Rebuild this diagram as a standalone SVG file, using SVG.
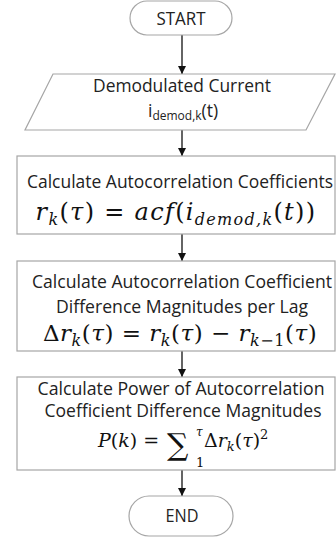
<svg xmlns="http://www.w3.org/2000/svg" width="336" height="540" viewBox="0 0 336 540">
<defs>
<marker id="ah" viewBox="0 0 10 10" refX="10" refY="5" markerWidth="8" markerHeight="8" markerUnits="userSpaceOnUse" orient="auto">
<path d="M0,0 L10,5 L0,10 z" fill="#111"/>
</marker>
<style>
.shape{fill:#fff;stroke:#a6a6a6;stroke-width:1.2}
.lbl{font-family:"Open Sans","Liberation Sans",sans-serif;font-size:17.5px;fill:#222;text-anchor:middle}
.m{font-family:"DejaVu Serif","Liberation Serif",serif;font-size:23px;fill:#111;text-anchor:middle;letter-spacing:0.5px}
.i{font-style:italic}
.sub{font-size:16px}
.conn{stroke:#111;stroke-width:1.3;fill:none;marker-end:url(#ah)}
</style>
</defs>
<rect width="336" height="540" fill="#fff"/>
<g id="connectors">
<line class="conn" x1="182" y1="35" x2="182" y2="74"/>
<line class="conn" x1="182" y1="130" x2="182" y2="156"/>
<line class="conn" x1="182" y1="234" x2="182" y2="261"/>
<line class="conn" x1="182" y1="351" x2="182" y2="377"/>
<line class="conn" x1="182" y1="470" x2="182" y2="496"/>
</g>
<g id="start">
<rect class="shape" x="130" y="1" width="102" height="34" rx="17"/>
<text class="lbl" x="181" y="25" textLength="49" lengthAdjust="spacingAndGlyphs">START</text>
</g>
<g id="input">
<polygon class="shape" points="53,74 335,74 306,130 25,130"/>
<text class="lbl" x="182" y="92" textLength="178" lengthAdjust="spacingAndGlyphs">Demodulated Current</text>
<text x="148" y="117" font-family="Open Sans, Liberation Sans, sans-serif" font-size="17.5" fill="#222">i<tspan font-size="12" dy="3">demod,k</tspan><tspan dy="-3">(t)</tspan></text>
</g>
<g id="acf">
<rect class="shape" x="17" y="156" width="318" height="78"/>
<text class="lbl" x="180" y="188" textLength="306" lengthAdjust="spacingAndGlyphs">Calculate Autocorrelation Coefficients</text>
<text class="m" x="176" y="220" style="font-size:24px;letter-spacing:1.3px"><tspan class="i">r</tspan><tspan class="i sub" dy="5">k</tspan><tspan dy="-5">(</tspan><tspan class="i">τ</tspan>) = <tspan class="i">acf</tspan>(<tspan class="i">i</tspan><tspan class="i sub" dy="5">demod,k</tspan><tspan dy="-5">(</tspan><tspan class="i">t</tspan>))</text>
</g>
<g id="diff">
<rect class="shape" x="17" y="261" width="318" height="90"/>
<text class="lbl" x="182" y="288" textLength="300" lengthAdjust="spacingAndGlyphs">Calculate Autocorrelation Coefficient</text>
<text class="lbl" x="182" y="313" textLength="252" lengthAdjust="spacingAndGlyphs">Difference Magnitudes per Lag</text>
<text class="m" x="180" y="341">Δ<tspan class="i">r</tspan><tspan class="i sub" dy="5">k</tspan><tspan dy="-5">(</tspan><tspan class="i">τ</tspan>) = <tspan class="i">r</tspan><tspan class="i sub" dy="5">k</tspan><tspan dy="-5">(</tspan><tspan class="i">τ</tspan>) − <tspan class="i">r</tspan><tspan class="sub" dy="5"><tspan class="i">k</tspan>−1</tspan><tspan dy="-5">(</tspan><tspan class="i">τ</tspan>)</text>
</g>
<g id="power">
<rect class="shape" x="17" y="377" width="318" height="93"/>
<text class="lbl" x="181" y="395" textLength="287" lengthAdjust="spacingAndGlyphs">Calculate Power of Autocorrelation</text>
<text class="lbl" x="183" y="417" textLength="277" lengthAdjust="spacingAndGlyphs">Coefficient Difference Magnitudes</text>
<text x="98" y="447" font-family="DejaVu Serif, Liberation Serif, serif" font-size="19" fill="#111"><tspan font-style="italic">P</tspan>(<tspan font-style="italic">k</tspan>) =</text>
<text x="167" y="455" font-family="DejaVu Serif, Liberation Serif, serif" font-size="30" fill="#111">∑</text>
<text x="196" y="436" font-family="DejaVu Serif, Liberation Serif, serif" font-size="12" font-style="italic" fill="#111">τ</text>
<text x="196" y="467" font-family="DejaVu Serif, Liberation Serif, serif" font-size="13" fill="#111">1</text>
<text x="204" y="447" font-family="DejaVu Serif, Liberation Serif, serif" font-size="19" fill="#111">Δ<tspan font-style="italic">r</tspan><tspan font-style="italic" font-size="13" dy="4">k</tspan><tspan dy="-4">(</tspan><tspan font-style="italic">τ</tspan>)<tspan font-size="13" dy="-8">2</tspan></text>
</g>
<g id="end">
<rect class="shape" x="129" y="496" width="104" height="40" rx="20"/>
<text class="lbl" x="182" y="522" textLength="33" lengthAdjust="spacingAndGlyphs">END</text>
</g>
</svg>
